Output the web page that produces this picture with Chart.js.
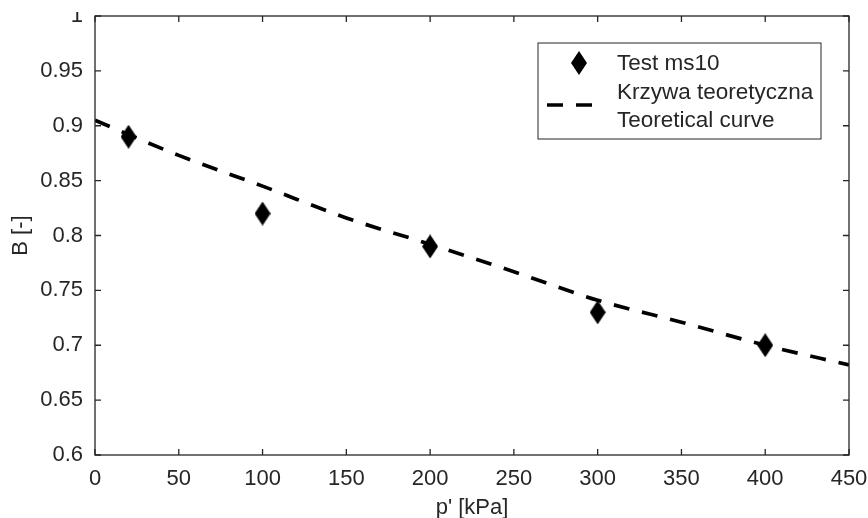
<!DOCTYPE html>
<html>
<head>
<meta charset="utf-8">
<script src="https://cdn.jsdelivr.net/npm/chart.js@4.4.0/dist/chart.umd.min.js"></script>
<style>
  html, body { margin: 0; padding: 0; background: #fff; }
  #wrap { width: 868px; height: 518px; }
</style>
</head>
<body>
<div id="wrap"><canvas id="graphique"></canvas></div>
<script>
// Pomiary (test ms10)
const cisnieniaTest = [20, 100, 200, 300, 400];
const wartosciB = [0.89, 0.82, 0.79, 0.73, 0.70];

// Krzywa teoretyczna
const cisnieniaKrzywa = [0, 50, 100, 150, 200, 250, 300, 350, 400, 450];
const wartosciKrzywa = [0.905, 0.873, 0.845, 0.816, 0.792, 0.767, 0.741, 0.721, 0.700, 0.682];

const etykietyLegendy = ["Test ms10", "Krzywa teoretyczna", "Teoretical curve"];

const FONT = '"Liberation Sans", Arial, sans-serif';
const KOLOR_OSI = "#262626";

// Romb wyższy niż szerszy (marker 'd')
function romb(w, h) {
  const c = document.createElement("canvas");
  c.width = w; c.height = h;
  const ctx = c.getContext("2d");
  ctx.beginPath();
  ctx.moveTo(w / 2, 0);
  ctx.lineTo(w, h / 2);
  ctx.lineTo(w / 2, h);
  ctx.lineTo(0, h / 2);
  ctx.closePath();
  ctx.fillStyle = "#000";
  ctx.fill();
  return c;
}
const marker = romb(16, 24);

// Ramka wykresu z podziałką do środka na wszystkich bokach
const ramka = {
  id: "ramka",
  afterDatasetsDraw(chart) {
    const { ctx, chartArea: a, scales } = chart;
    ctx.save();
    ctx.strokeStyle = KOLOR_OSI;
    ctx.lineWidth = 1.3;
    ctx.strokeRect(a.left, a.top, a.right - a.left, a.bottom - a.top);
    const dl = 6;
    ctx.beginPath();
    scales.x.ticks.forEach(t => {
      const x = scales.x.getPixelForValue(t.value);
      ctx.moveTo(x, a.bottom); ctx.lineTo(x, a.bottom - dl);
      ctx.moveTo(x, a.top); ctx.lineTo(x, a.top + dl);
    });
    scales.y.ticks.forEach(t => {
      const y = scales.y.getPixelForValue(t.value);
      ctx.moveTo(a.left, y); ctx.lineTo(a.left + dl, y);
      ctx.moveTo(a.right, y); ctx.lineTo(a.right - dl, y);
    });
    ctx.stroke();
    ctx.restore();
  },
  afterDraw(chart) {
    // górny pasek figury jest obcięty
    const ctx = chart.ctx;
    ctx.save();
    ctx.fillStyle = "#fff";
    ctx.fillRect(0, 0, chart.chartArea.left - 2, 12);
    ctx.restore();
  }
};

// Legenda w ramce w prawym górnym rogu
const legenda = {
  id: "legenda",
  afterDraw(chart) {
    const { ctx, chartArea: a } = chart;
    const right = a.right - 28, top = a.top + 27;
    const w = 283, h = 96;
    const left = right - w;
    ctx.save();
    ctx.fillStyle = "#fff";
    ctx.fillRect(left, top, w, h);
    ctx.strokeStyle = KOLOR_OSI;
    ctx.lineWidth = 1;
    ctx.strokeRect(left, top, w, h);

    ctx.drawImage(marker, left + 41 - 8, top + 20 - 12);

    ctx.beginPath();
    ctx.setLineDash([16, 13]);
    ctx.lineWidth = 3.5;
    ctx.strokeStyle = "#000";
    ctx.moveTo(left + 9, top + 62);
    ctx.lineTo(left + 58, top + 62);
    ctx.stroke();
    ctx.setLineDash([]);

    ctx.fillStyle = KOLOR_OSI;
    ctx.font = "22.5px " + FONT;
    ctx.textBaseline = "middle";
    ctx.textAlign = "left";
    ctx.fillText(etykietyLegendy[0], left + 79, top + 21);
    ctx.fillText(etykietyLegendy[1], left + 79, top + 50);
    ctx.fillText(etykietyLegendy[2], left + 79, top + 78);
    ctx.restore();
  }
};

const data = {
  datasets: [
    {
      label: etykietyLegendy[0],
      data: cisnieniaTest.map((x, i) => ({ x: x, y: wartosciB[i] })),
      showLine: false,
      pointStyle: marker,
      pointRadius: 12,
      backgroundColor: "#000",
      borderColor: "#000",
      order: 1
    },
    {
      label: etykietyLegendy[1],
      data: cisnieniaKrzywa.map((x, i) => ({ x: x, y: wartosciKrzywa[i] })),
      showLine: true,
      borderColor: "#000",
      borderWidth: 3.7,
      borderDash: [16, 13],
      pointRadius: 0,
      cubicInterpolationMode: "monotone",
      order: 2
    }
  ]
};

const config = {
  type: "scatter",
  data: data,
  options: {
    responsive: true,
    maintainAspectRatio: false,
    animation: false,
    layout: { padding: { top: 16, right: 19, bottom: 0, left: 0 } },
    plugins: {
      legend: { display: false },
      tooltip: { enabled: false }
    },
    scales: {
      x: {
        type: "linear",
        min: 0,
        max: 450,
        grid: { display: false, drawTicks: false },
        border: { display: false },
        ticks: {
          stepSize: 50,
          padding: 11,
          color: KOLOR_OSI,
          font: { family: FONT, size: 22 }
        },
        title: {
          display: true,
          text: "p' [kPa]",
          color: KOLOR_OSI,
          font: { family: FONT, size: 22 },
          padding: { top: 0, bottom: -3 }
        },
        afterFit: s => {
          s.height = 63;
          s.paddingLeft = 0;
          s.paddingRight = 0;
        }
      },
      y: {
        type: "linear",
        min: 0.6,
        max: 1,
        grid: { display: false, drawTicks: false },
        border: { display: false },
        ticks: {
          stepSize: 0.05,
          padding: 12,
          color: KOLOR_OSI,
          font: { family: FONT, size: 22 },
          callback: v => String(+v.toFixed(2))
        },
        title: {
          display: true,
          text: "B [-]",
          color: KOLOR_OSI,
          font: { family: FONT, size: 22 },
          padding: { top: 8, bottom: 0 }
        },
        afterFit: s => {
          s.width = 95;
          s.paddingTop = 0;
          s.paddingBottom = 0;
        }
      }
    }
  },
  plugins: [ramka, legenda]
};

new Chart(document.querySelector("#graphique"), config);
</script>
</body>
</html>
